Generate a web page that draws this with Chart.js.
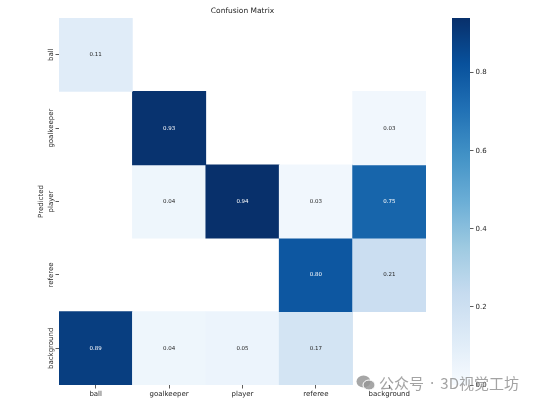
<!DOCTYPE html>
<html>
<head>
<meta charset="utf-8">
<script src="https://cdn.jsdelivr.net/npm/chart.js@4.4.1/dist/chart.umd.min.js"></script>
<style>
  html, body { margin: 0; padding: 0; background: #fff; }
  #wrap { position: relative; width: 538px; height: 404px; overflow: hidden; }
  #main { position: absolute; left: 0; top: 0; }
  #cbar { position: absolute; left: 400px; top: 0; }
  #wm { position: absolute; left: 356px; top: 373px; height: 20px; line-height: 20px;
        font-family: "Noto Sans CJK SC", sans-serif; font-size: 15px; color: rgba(140,140,140,0.8);
        white-space: nowrap; }
  #wm svg { vertical-align: middle; margin-right: 3px; margin-top: -3px; }
  #wm .dot { font-family: "DejaVu Sans", sans-serif; margin: 0 1px; }
</style>
</head>
<body>
<div id="wrap">
  <canvas id="main" width="538" height="404"></canvas>
  <canvas id="cbar" width="138" height="404"></canvas>
  <div id="wm"><svg width="20" height="16" viewBox="0 0 20 16"><ellipse cx="7.5" cy="6.5" rx="7" ry="6" fill="rgba(150,150,150,0.85)"/><ellipse cx="13" cy="10" rx="6" ry="5" fill="rgba(150,150,150,0.85)" stroke="#fff" stroke-width="1"/></svg>公众号<span class="dot"> · </span>3D视觉工坊</div>
</div>
<script>
// ---- data ----
const chartTitle = "Confusion Matrix";
const yAxisTitle = "Predicted";
const trueLabels = ["ball", "goalkeeper", "player", "referee", "background"];
const predLabels = ["ball", "goalkeeper", "player", "referee", "background"];
const rowBall       = [0.11, 0.00, 0.00, 0.00, 0.00];
const rowGoalkeeper = [0.00, 0.93, 0.00, 0.00, 0.03];
const rowPlayer     = [0.00, 0.04, 0.94, 0.03, 0.75];
const rowReferee    = [0.00, 0.00, 0.00, 0.80, 0.21];
const rowBackground = [0.89, 0.04, 0.05, 0.17, 0.00];
const colorbarTicks = [0.0, 0.2, 0.4, 0.6, 0.8];

const matrix = [rowBall, rowGoalkeeper, rowPlayer, rowReferee, rowBackground];
const vmax = Math.max(...matrix.flat());

// ---- matplotlib "Blues" colormap ----
const bluesStops = ["#f7fbff","#deebf7","#c6dbef","#9ecae1","#6baed6","#4292c6","#2171b5","#08519c","#08306b"];
function hexToRgb(h){ return [parseInt(h.substr(1,2),16), parseInt(h.substr(3,2),16), parseInt(h.substr(5,2),16)]; }
const bluesRgb = bluesStops.map(hexToRgb);
function blues(t){
  t = Math.max(0, Math.min(1, t));
  const p = t * (bluesRgb.length - 1);
  const i = Math.min(Math.floor(p), bluesRgb.length - 2);
  const f = p - i;
  const a = bluesRgb[i], b = bluesRgb[i+1];
  return [0,1,2].map(k => Math.round(a[k] + (b[k]-a[k]) * f));
}
function rgbStr(c){ return `rgb(${c[0]},${c[1]},${c[2]})`; }
function lum(c){
  const l = c.map(v => { v /= 255; return v <= 0.03928 ? v/12.92 : Math.pow((v+0.055)/1.055, 2.4); });
  return 0.2126*l[0] + 0.7152*l[1] + 0.0722*l[2];
}

const FONT = "'DejaVu Sans', sans-serif";

const datasets = matrix.map((row, r) => ({
  label: predLabels[r],
  data: row.map(v => v >= 0.005 ? [r, r + 1] : null),
  backgroundColor: row.map(v => rgbStr(blues(v / vmax))),
  values: row,
  grouped: false,
  barPercentage: 1,
  categoryPercentage: 1,
  borderWidth: 0,
  borderSkipped: false
}));

const overlay = {
  id: 'overlay',
  afterDatasetsDraw(chart) {
    const ctx = chart.ctx;
    ctx.save();
    // cell annotations
    ctx.font = "5.5px " + FONT;
    ctx.textAlign = "center";
    ctx.textBaseline = "middle";
    chart.data.datasets.forEach((ds, di) => {
      const meta = chart.getDatasetMeta(di);
      meta.data.forEach((el, ci) => {
        const v = ds.values[ci];
        if (ds.data[ci] == null) return;
        const col = blues(v / vmax);
        ctx.fillStyle = lum(col) > 0.408 ? "#262626" : "#ffffff";
        ctx.fillText(v.toFixed(2), el.x, (el.y + el.base) / 2);
      });
    });
    // y tick labels (rotated)
    const ys = chart.scales.y;
    ctx.font = "7px " + FONT;
    ctx.fillStyle = "#262626";
    predLabels.forEach((lab, i) => {
      const y = ys.getPixelForValue(i + 0.5);
      ctx.save();
      ctx.translate(51.5, y);
      ctx.rotate(-Math.PI / 2);
      ctx.fillText(lab, 0, 0);
      ctx.restore();
    });
    // title
    const a = chart.chartArea;
    ctx.font = "7.5px " + FONT;
    ctx.fillText(chartTitle, (a.left + a.right) / 2, 11);
    ctx.restore();
  }
};

new Chart(document.getElementById('main'), {
  type: 'bar',
  data: { labels: trueLabels, datasets },
  options: {
    responsive: false,
    animation: false,
    layout: { padding: { left: 0, top: 18, right: 112, bottom: 0 } },
    plugins: { legend: { display: false }, title: { display: false }, tooltip: { enabled: false } },
    scales: {
      x: {
        type: 'category',
        offset: true,
        grid: { display: true, drawOnChartArea: false, drawTicks: true, tickLength: 3.5, offset: false, color: '#333', lineWidth: 0.8 },
        border: { display: false },
        ticks: { font: { size: 7, family: FONT }, color: '#262626', padding: 1, maxRotation: 0, minRotation: 0 },
        afterFit: s => { s.height = 19; }
      },
      y: {
        type: 'linear',
        min: 0, max: 5,
        reverse: true,
        afterBuildTicks: s => { s.ticks = predLabels.map((_, i) => ({ value: i + 0.5 })); },
        ticks: { display: false },
        grid: { display: true, drawOnChartArea: false, drawTicks: true, tickLength: 3.5, color: '#333', lineWidth: 0.8 },
        border: { display: false },
        title: { display: true, text: yAxisTitle, font: { size: 7, family: FONT }, color: '#262626', padding: { top: 36.5, bottom: 0 } },
        afterFit: s => { s.width = 59; }
      }
    }
  },
  plugins: [overlay]
});

// ---- colorbar ----
new Chart(document.getElementById('cbar'), {
  type: 'bar',
  data: {
    labels: [''],
    datasets: [{
      data: [[0, vmax]],
      barPercentage: 1,
      categoryPercentage: 1,
      borderWidth: 0,
      backgroundColor: (c) => {
        const chart = c.chart;
        if (!chart.chartArea) return rgbStr(blues(0.5));
        const ys = chart.scales.y;
        const y0 = ys.getPixelForValue(0), y1 = ys.getPixelForValue(vmax);
        const g = chart.ctx.createLinearGradient(0, y0, 0, y1);
        for (let k = 0; k <= 32; k++) g.addColorStop(k / 32, rgbStr(blues(k / 32)));
        return g;
      }
    }]
  },
  options: {
    responsive: false,
    animation: false,
    layout: { padding: { left: 52, top: 18, right: 0, bottom: 19 } },
    plugins: { legend: { display: false }, tooltip: { enabled: false } },
    scales: {
      x: { type: 'category', display: false, offset: true },
      y: {
        type: 'linear',
        position: 'right',
        min: 0, max: vmax,
        afterBuildTicks: s => { s.ticks = colorbarTicks.map(v => ({ value: v })); },
        ticks: { font: { size: 7, family: FONT }, color: '#262626', padding: 2, callback: v => Number(v).toFixed(1) },
        grid: { display: true, drawOnChartArea: false, drawTicks: true, tickLength: 3.5, color: '#333', lineWidth: 0.8 },
        border: { display: false },
        afterFit: s => { s.width = 68; }
      }
    }
  }
});
</script>
</body>
</html>
